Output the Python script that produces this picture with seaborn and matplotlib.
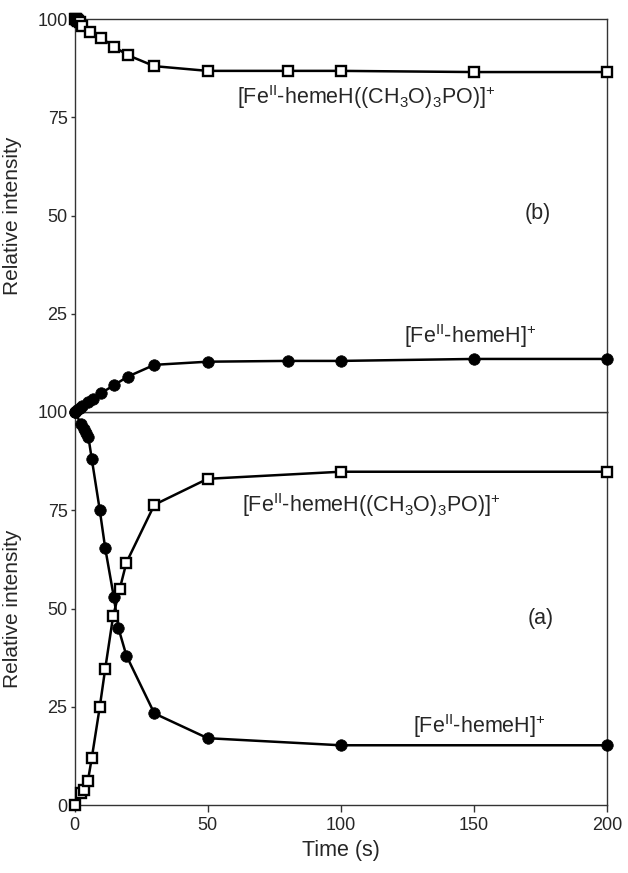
import matplotlib
matplotlib.use("Agg")
import matplotlib.pyplot as plt
import seaborn as sns
import pandas as pd

# ---------------- data ----------------
# Panel (b)
b_time_heme = [0, 1, 2, 3, 5, 7, 10, 15, 20, 30, 50, 80, 100, 150, 200]
b_heme = [0, 0.5, 1.0, 1.5, 2.5, 3.3, 4.8, 6.9, 9.0, 12.0, 12.8, 13.0, 13.0, 13.5, 13.5]
b_time_lig = [0, 0.5, 1, 1.5, 2, 3, 6, 10, 15, 20, 30, 50, 80, 100, 150, 200]
b_lig = [100, 99.9, 99.7, 99.5, 99.2, 98.2, 96.7, 95.2, 92.9, 90.8, 88.0, 86.8, 86.8, 86.8, 86.5, 86.5]

# Panel (a)
a_time_heme = [0, 2.5, 3.5, 4.5, 5.2, 6.5, 9.5, 11.5, 14.8, 16.5, 19.5, 30, 50, 100, 200]
a_heme = [100, 97, 95.7, 94.7, 93.7, 88, 75, 65.5, 52.8, 45, 38, 23.3, 17, 15.2, 15.2]
a_time_lig = [0, 2.5, 3.5, 5, 6.5, 9.5, 11.5, 14.5, 17, 19.5, 30, 50, 100, 200]
a_lig = [0, 3, 3.8, 6, 12, 25, 34.5, 48, 55, 61.7, 76.4, 83, 84.8, 84.8]

x_ticks = [0, 50, 100, 150, 200]
y_ticks = [0, 25, 50, 75, 100]

lbl_lig = r"[Fe$^{\mathrm{II}}$-hemeH((CH$_{\mathrm{3}}$O)$_{\mathrm{3}}$PO)]$^{\mathrm{+}}$"
lbl_heme = r"[Fe$^{\mathrm{II}}$-hemeH]$^{\mathrm{+}}$"

# ---------------- style ----------------
sns.set_theme(style="ticks")
plt.rcParams["font.family"] = ["Liberation Sans", "DejaVu Sans"]
plt.rcParams["mathtext.fontset"] = "custom"
plt.rcParams["mathtext.rm"] = "Liberation Sans"
plt.rcParams["mathtext.it"] = "Liberation Sans:italic"
plt.rcParams["mathtext.bf"] = "Liberation Sans:bold"

W, H = 628, 873
fig = plt.figure(figsize=(W / 100, H / 100), dpi=100)
left = 74.5 / W
width = (607 - 74.5) / W
a_bottom = (H - 805) / H
mid = (H - 412) / H
top = (H - 19) / H
ax_a = fig.add_axes([left, a_bottom, width, mid - a_bottom])
ax_b = fig.add_axes([left, mid, width, top - mid])

spine_col = "#333333"
circ_kw = dict(color="black", marker="o", markersize=8.3, markerfacecolor="black",
               markeredgecolor="black", markeredgewidth=0.5, linewidth=1.8, clip_on=False)
sq_kw = dict(color="black", marker="s", markersize=7.6, markerfacecolor="white",
             markeredgecolor="black", markeredgewidth=1.7, linewidth=1.8, clip_on=False)

def panel(ax, th, yh, tl, yl):
    sns.lineplot(x=th, y=yh, ax=ax, zorder=3, **circ_kw)
    sns.lineplot(x=tl, y=yl, ax=ax, zorder=4, **sq_kw)
    ax.set_xlim(0, 200)
    ax.set_ylim(0, 100)
    for s in ax.spines.values():
        s.set_color(spine_col)
        s.set_linewidth(1.0)
    ax.tick_params(axis="y", direction="out", length=3, width=1, color=spine_col,
                   labelsize=13, pad=2)
    ax.tick_params(axis="x", direction="out", length=5, width=1, color=spine_col,
                   labelsize=13, pad=4)

panel(ax_b, b_time_heme, b_heme, b_time_lig, b_lig)
panel(ax_a, a_time_heme, a_heme, a_time_lig, a_lig)

ax_a.set_xticks(x_ticks)
ax_a.set_yticks(y_ticks)
ax_b.set_xticks([])
ax_b.set_yticks(y_ticks[1:])

ax_a.set_xlabel("Time (s)", fontsize=15.5, labelpad=4)
for ax in (ax_a, ax_b):
    ax.set_ylabel("Relative intensity", fontsize=15)
    ax.yaxis.set_label_coords(-0.098, 0.5)

# annotations
ax_b.text(109.5, 78.3, lbl_lig, fontsize=15.5, ha="center", va="baseline")
ax_b.text(174, 50.5, "(b)", fontsize=15.5, ha="center", va="center")
ax_b.text(148.5, 17.5, lbl_heme, fontsize=15.5, ha="center", va="baseline")

ax_a.text(111.5, 74.6, lbl_lig, fontsize=15.5, ha="center", va="baseline")
ax_a.text(175, 47.5, "(a)", fontsize=15.5, ha="center", va="center")
ax_a.text(152, 18.2, lbl_heme, fontsize=15.5, ha="center", va="baseline")

fig.savefig("out.png", dpi=100)
